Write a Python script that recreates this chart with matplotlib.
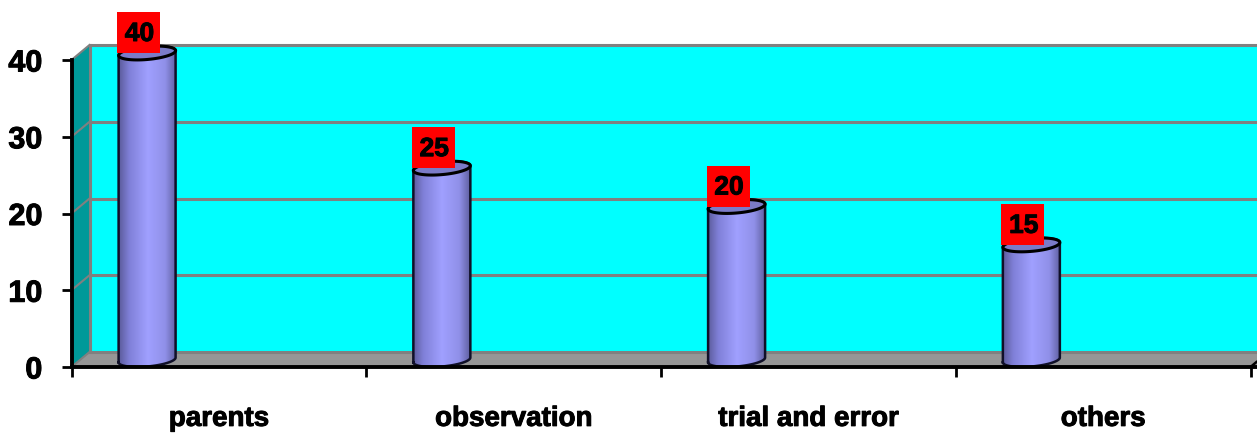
import matplotlib
matplotlib.use("Agg")
import matplotlib.pyplot as plt
import matplotlib.patheffects as pe
import numpy as np
from matplotlib.colors import LinearSegmentedColormap
from matplotlib.patches import PathPatch, Polygon, Rectangle
from matplotlib.path import Path

categories = ["parents", "observation", "trial and error", "others"]
values = [40, 25, 20, 15]
y_ticks = [0, 10, 20, 30, 40]

W, H = 1257, 434
X0, Y0 = 71.5, 367       # pixel of the chart origin
PX_CAT = 294.75          # pixels per category
PX_VAL = 7.675           # pixels per unit
DX = 18 / PX_CAT         # depth of the 3d box, data units
DY = 15 / PX_VAL
BAR_POS = 0.2565
BAR_W = 57 / PX_CAT
XMAX = (W - X0) / PX_CAT

plt.rcParams["font.family"] = ["Liberation Sans", "DejaVu Sans"]
plt.rcParams["font.weight"] = "bold"
heavy = [pe.withStroke(linewidth=0.7, foreground="black")]

fig = plt.figure(figsize=(W / 100, H / 100), dpi=100)
ax = fig.add_axes([0, 0, 1, 1])

# walls
wall_top = max(y_ticks)
ax.add_patch(Rectangle((DX, DY), XMAX, wall_top, fc="#00ffff", ec="none", zorder=1))
ax.add_patch(Polygon([(0, 0), (DX, DY), (DX, wall_top + DY), (0, wall_top)],
                     fc="#009999", ec="none", zorder=1))
ax.add_patch(Polygon([(0, 0), (DX, DY), (XMAX + 1, DY), (XMAX + 1, 0)],
                     fc="#969696", ec="none", zorder=1))

# gridlines on back and side wall
for t in y_ticks:
    ax.plot([DX, XMAX + 1], [t + DY, t + DY], color="#808080", lw=2.2, zorder=2)
    if t > 0:
        ax.plot([0, DX], [t, t + DY], color="#808080", lw=1.5, zorder=2)
ax.plot([DX, DX], [DY, wall_top + DY], color="#808080", lw=2.2, zorder=2)
ax.plot([0, DX], [0, DY], color="#808080", lw=1.5, zorder=2)

# cylinders
cyl_cmap = LinearSegmentedColormap.from_list(
    "cyl", [(0, "#5c5c9c"), (0.18, "#8080d8"), (0.5, "#a0a0ff"),
            (0.8, "#9090e8"), (1, "#5c5c9c")])
grad = np.linspace(0, 1, 256).reshape(1, -1)
tt = np.linspace(0, 2 * np.pi, 80)
a = BAR_W / 2
b = 6.5 / PX_VAL       # half height of the ellipse
tilt = 2.4 / PX_VAL    # right side sits higher than the left
lift = 7 / PX_VAL      # cylinder stands in the middle of the depth


def ring(xc, yc, t):
    return np.column_stack([xc + a * np.cos(t), yc + b * np.sin(t) + tilt * np.cos(t)])


for i, v in enumerate(values):
    xc = i + BAR_POS
    t_low = np.linspace(np.pi, 2 * np.pi, 40)
    t_up = np.linspace(0, np.pi, 40)
    outline = np.vstack([ring(xc, lift, t_low), ring(xc, v + lift, t_up)])
    body = PathPatch(Path(np.vstack([outline, outline[:1]]), closed=True),
                     fc="none", ec="none", transform=ax.transData)
    ax.add_patch(body)
    im = ax.imshow(grad, cmap=cyl_cmap, aspect="auto", zorder=3,
                   extent=[xc - a, xc + a, -5, v + 5])
    im.set_clip_path(body)
    ax.plot(*np.vstack([outline, outline[:1]]).T, color="#101028", lw=1.8, zorder=4)

    top = ring(xc, v + lift, tt)
    ax.add_patch(Polygon(top, fc="#7b7bc8", ec="#000000", lw=2.2, zorder=5))

    # red value label
    ax.text(xc - 0.026, v + 26 / PX_VAL, str(v), ha="center", va="center",
            fontsize=19, color="black", zorder=7, path_effects=heavy)
    ax.add_patch(Rectangle((xc - 30 / PX_CAT, v + 7 / PX_VAL), 43 / PX_CAT, 41 / PX_VAL,
                           fc="#ff0000", ec="none", zorder=6))

# axes
ax.set_xlim(-X0 / PX_CAT, XMAX)
ax.set_ylim((Y0 - H) / PX_VAL, Y0 / PX_VAL)
ax.patch.set_visible(False)
for s in ["top", "right"]:
    ax.spines[s].set_visible(False)
ax.spines["left"].set_position(("data", 0))
ax.spines["bottom"].set_position(("data", 0))
ax.spines["left"].set_bounds(0, max(y_ticks))
ax.spines["bottom"].set_bounds(0, XMAX)
ax.spines["left"].set_linewidth(2.8)
ax.spines["bottom"].set_linewidth(2.8)
for s in ["left", "bottom"]:
    ax.spines[s].set_zorder(8)

ax.set_yticks(y_ticks)
ax.tick_params(axis="y", length=7, width=2, pad=14, labelsize=22)
ax.set_xticks(np.arange(len(categories) + 1))
ax.set_xticklabels([])
ax.tick_params(axis="x", which="major", length=7, width=2)
ax.set_xticks(np.arange(len(categories)) + 0.5, minor=True)
ax.set_xticklabels(categories, minor=True, fontsize=20)
ax.tick_params(axis="x", which="minor", length=0, pad=28)
for lab in ax.get_yticklabels() + ax.get_xticklabels(minor=True):
    lab.set_path_effects(heavy)

# little diagonal at the right end of the floor
ax.plot([4, 4 + 6 / PX_CAT], [0, 5 / PX_VAL], color="black", lw=1.8, zorder=8)

fig.savefig("out.png", dpi=100)
